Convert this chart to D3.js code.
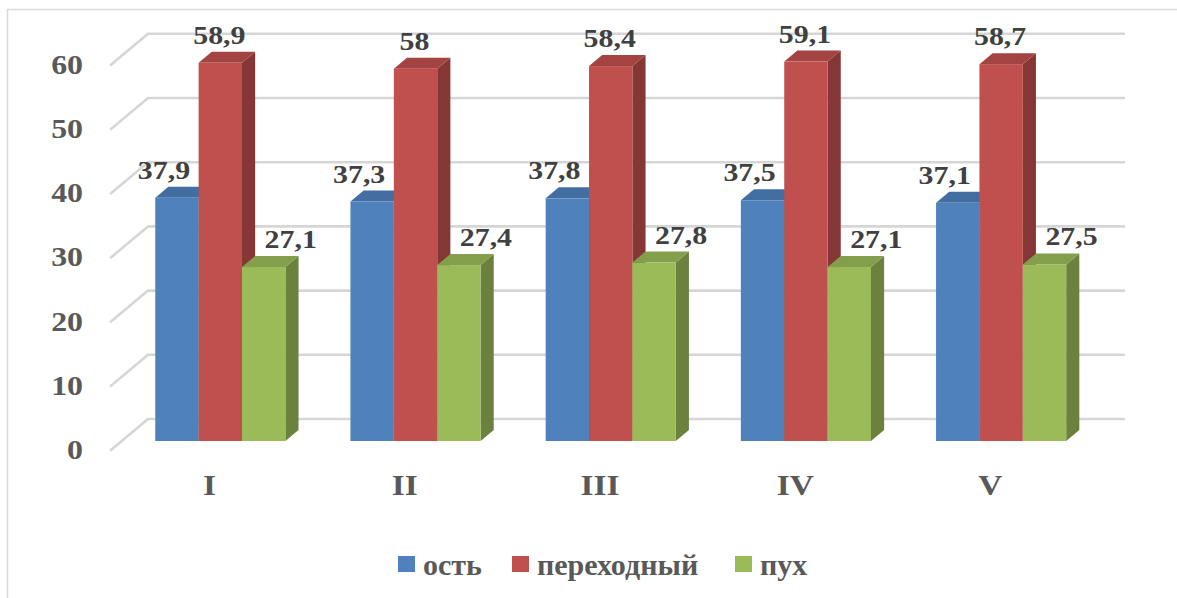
<!DOCTYPE html>
<html>
<head>
<meta charset="utf-8">
<script src="https://cdn.jsdelivr.net/npm/d3@7"></script>
<style>
  html, body { margin: 0; padding: 0; background: #ffffff; }
  svg { display: block; }
  text { font-family: "Liberation Serif", "Times New Roman", serif; font-weight: bold; }
</style>
</head>
<body>
<svg id="chart" width="1177" height="598"></svg>
<script>
// Categories and series values
const categories = ["I", "II", "III", "IV", "V"];
const seriesNames = ["ость", "переходный", "пух"];
const ostValues = [37.9, 37.3, 37.8, 37.5, 37.1];
const perehodValues = [58.9, 58, 58.4, 59.1, 58.7];
const puhValues = [27.1, 27.4, 27.8, 27.1, 27.5];
const yTickValues = [0, 10, 20, 30, 40, 50, 60];
const seriesColors = ["#4F81BD", "#C0504D", "#9BBB59"];

const seriesValues = [ostValues, perehodValues, puhValues];

const svg = d3.select("#chart");
const W = 1177, H = 598;

// Oblique 3D projection: depth z in [0,1] shifts right and up
const DEPTH_X = 37, DEPTH_Y = 31;
const floorLeft = 112, floorRight = 1088;
const y = d3.scaleLinear().domain([0, 60]).range([450, 450 - 60 * 6.42]);
const x = d3.scaleBand().domain(categories).range([floorLeft, floorRight])
  .paddingInner(1 / 3).paddingOuter(1 / 6);
const xs = d3.scaleBand().domain(seriesNames).range([0, x.bandwidth()]).padding(0);
const P = (px, v, z) => [px + z * DEPTH_X, y(v) - z * DEPTH_Y];

const zFront = 0.29, zBack = 0.645;

// Outer chart frame
svg.append("rect")
  .attr("x", 7.5).attr("y", 9.5)
  .attr("width", W + 20).attr("height", H + 20)
  .attr("fill", "none").attr("stroke", "#d9d9d9").attr("stroke-width", 1.5);

// Gridlines: side-wall diagonals and back-wall horizontals
const grid = svg.append("g");
yTickValues.forEach(v => {
  const a = P(floorLeft - 1, v, 0), b = P(floorLeft - 1, v, 1), c = P(floorRight - 1, v, 1);
  grid.append("path")
    .attr("d", `M${a[0]},${a[1]}L${b[0]},${b[1]}L${c[0]},${c[1]}`)
    .attr("fill", "none").attr("stroke", "#d6d6d6").attr("stroke-width", 2.6)
    .attr("stroke-linejoin", "round").attr("stroke-linecap", "round");
});

// Y tick labels
svg.append("g").selectAll("text").data(yTickValues).join("text")
  .attr("transform", d => `translate(83,${y(d) + 9}) scale(1.18,1)`)
  .attr("text-anchor", "end")
  .attr("font-size", 27)
  .attr("fill", "#595959")
  .text(d => d);

// Bars as prisms
const bars = svg.append("g");
categories.forEach((cat, ci) => {
  seriesNames.forEach((s, si) => {
    const v = seriesValues[si][ci];
    const x0 = x(cat) + xs(s), x1 = x0 + xs.bandwidth();
    const col = d3.color(seriesColors[si]);
    const topCol = col.darker(0.45);
    const sideCol = col.darker(1.05);
    const f0 = P(x0, 0, zFront), f1 = P(x1, 0, zFront);
    const t0 = P(x0, v, zFront), t1 = P(x1, v, zFront);
    const b0 = P(x0, v, zBack), b1 = P(x1, v, zBack);
    const bb1 = P(x1, 0, zBack);
    // side face
    bars.append("path")
      .attr("d", `M${f1}L${t1}L${b1}L${bb1}Z`)
      .attr("fill", sideCol);
    // top face
    bars.append("path")
      .attr("d", `M${t0}L${t1}L${b1}L${b0}Z`)
      .attr("fill", topCol);
    // front face
    bars.append("rect")
      .attr("x", t0[0]).attr("y", t0[1])
      .attr("width", x1 - x0).attr("height", f0[1] - t0[1])
      .attr("fill", col);
  });
});

// Value labels
const labelShift = [-13, -1, 27];
const labels = svg.append("g");
categories.forEach((cat, ci) => {
  seriesNames.forEach((s, si) => {
    const v = seriesValues[si][ci];
    const cx = x(cat) + xs(s) + xs.bandwidth() / 2 + zFront * DEPTH_X + labelShift[si];
    const ty = P(0, v, zFront)[1] - 19;
    labels.append("text")
      .attr("transform", `translate(${cx},${ty}) scale(1.22,1)`)
      .attr("text-anchor", "middle")
      .attr("font-size", 24.5)
      .attr("fill", "#404040")
      .text(String(v).replace(".", ","));
  });
});

// Category labels
svg.append("g").selectAll("text").data(categories).join("text")
  .attr("transform", d => `translate(${x(d) + x.bandwidth() / 2},${y(0) + 45}) scale(1.15,1)`)
  .attr("text-anchor", "middle")
  .attr("font-size", 29)
  .attr("fill", "#595959")
  .text(d => d);

// Legend
const legendX = [398, 512, 735];
const legend = svg.append("g");
seriesNames.forEach((s, i) => {
  legend.append("rect")
    .attr("x", legendX[i]).attr("y", 556)
    .attr("width", 17).attr("height", 16)
    .attr("fill", seriesColors[i]);
  legend.append("text")
    .attr("x", legendX[i] + 25).attr("y", 575)
    .attr("font-size", 30)
    .attr("fill", "#595959")
    .text(s);
});
</script>
</body>
</html>
